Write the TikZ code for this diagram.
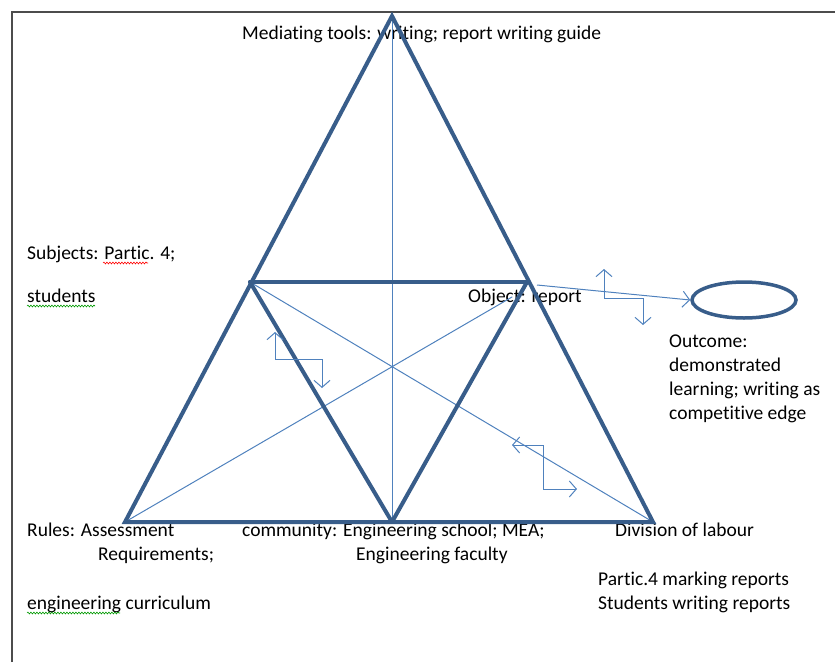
\documentclass[tikz,border=0pt]{standalone}
\usepackage{fontspec}
\setmainfont{Carlito}[Ligatures=NoCommon]
\usepackage{tkz-euclide}
\usetikzlibrary{arrows.meta,shapes.geometric,decorations.pathmorphing}
\definecolor{TriClr}{RGB}{56,93,138}
\definecolor{LineClr}{RGB}{79,129,189}

\tikzset{
  lbl/.style={anchor=base west,inner sep=0pt,font=\fontsize{19.5}{24}\selectfont},
  thinline/.style={line width=1pt,color=LineClr},
  bolt/.style={thinline,{Straight Barb[length=7pt,width=16pt]}-{Straight Barb[length=7pt,width=16pt]}},
  squiggle/.style={line width=0.6pt,decorate,decoration={snake,amplitude=0.9pt,segment length=3pt}}
}

\begin{document}
\begin{tikzpicture}[x=1pt,y=-1pt]
\useasboundingbox (0,0) rectangle (835,662);
\draw[gray!60!black,line width=1.4pt] (12,662) -- (12,12) -- (835,12);

\tkzDefPoint(392,16){T}
\tkzDefPoint(250,282){L}
\tkzDefPoint(527,282){R}
\tkzDefPoint(125,522){A}
\tkzDefPoint(392,522){M}
\tkzDefPoint(653,522){B}
\tkzDefPoint(512,297){Q}

% labels go under the lines
\node[lbl] (tools) at (242,39) {Mediating tools: writing; report writing guide};
\node[lbl] (subj) at (27,259) {Subjects: Partic. 4;};
\node[lbl] (stud) at (27,302) {students};
\node[lbl] (obj) at (468,302) {Object: report};
\node[lbl,align=left] (outc) at (669,419) {Outcome:\\demonstrated\\learning; writing as\\competitive edge};
\node[lbl] (rules) at (27,536) {Rules: Assessment};
\node[lbl] (req) at (98,560) {Requirements;};
\node[lbl] (curr) at (27,609) {engineering curriculum};
\node[lbl] (comm) at (242,536) {community: Engineering school; MEA;};
\node[lbl] (fac) at (356,560) {Engineering faculty};
\node[lbl] (div) at (615,536) {Division of labour};
\node[lbl] (mark) at (598,585) {Partic.4 marking reports};
\node[lbl] (writ) at (598,609) {Students writing reports};

\draw[squiggle,red] (103,263) -- (148,263);
\draw[squiggle,green!60!black] (27,306) -- (95,306);
\draw[squiggle,green!60!black] (27,613) -- (120,613);

% thin lines inside
\tkzDrawSegments[thinline](T,M L,B A,Q)

% the triangles
\tkzDrawPolygon[line width=4pt,color=TriClr,line join=miter](T,A,B)
\tkzDrawSegments[line width=4pt,color=TriClr](L,R L,M R,M)

% outcome
\node[ellipse,draw=TriClr,line width=3.5pt,minimum width=104pt,minimum height=36pt] (out) at (744,300) {};
\coordinate (objend) at (537,285);
\draw[thinline,-{Straight Barb[length=7pt,width=16pt]}] (objend) -- (out.west);

% contradictions
\draw[bolt] (275,332) -- (275,359) -- (322,359) -- (322,388);
\draw[bolt] (604,269) -- (604,298) -- (643,298) -- (643,325);
\draw[bolt] (512,445) -- (543,445) -- (543,489) -- (577,489);
\end{tikzpicture}
\end{document}
